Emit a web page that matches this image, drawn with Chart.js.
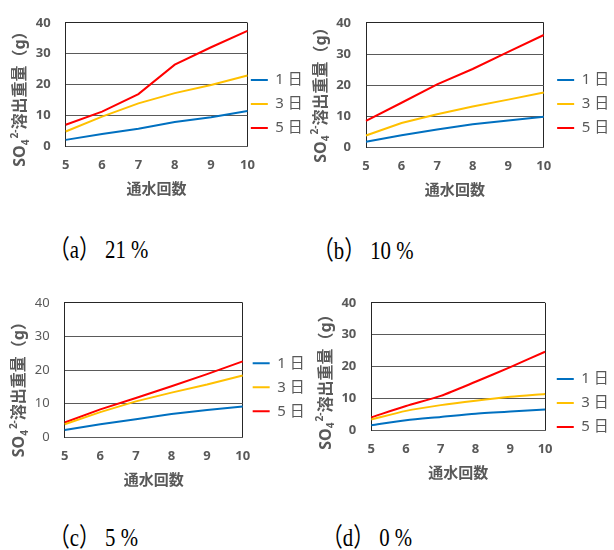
<!DOCTYPE html>
<html>
<head>
<meta charset="utf-8">
<script src="https://cdn.jsdelivr.net/npm/chart.js@4.4.1/dist/chart.umd.min.js"></script>
<style>
  body { margin: 0; width: 614px; height: 550px; background: #fff; overflow: hidden; position: relative; }
  .box { position: absolute; }
  .cap { position: absolute; font-family: 'Liberation Serif', 'Noto Sans CJK JP', serif; font-size: 26px; color: #000;
         transform: scaleX(0.8); transform-origin: left top; white-space: pre; line-height: 1; }
</style>
</head>
<body>
<div class="box" style="left:0px;top:0px;width:318px;height:205px"><canvas id="chartA"></canvas></div>
<div class="box" style="left:305px;top:0px;width:308px;height:205px"><canvas id="chartB"></canvas></div>
<div class="box" style="left:0px;top:280px;width:312px;height:215px"><canvas id="chartC"></canvas></div>
<div class="box" style="left:305px;top:280px;width:308px;height:210px"><canvas id="chartD"></canvas></div>

<div class="cap" style="left:49px;top:237px">（a） 21 %</div>
<div class="cap" style="left:313px;top:238px">（b） 10 %</div>
<div class="cap" style="left:49px;top:525px">（c） 5 %</div>
<div class="cap" style="left:322px;top:525px">（d） 0 %</div>

<script>
// 通水回数
const passes = ['5', '6', '7', '8', '9', '10'];
const days = ['1 日', '3 日', '5 日'];
const colors = ['#0070C0', '#FFC000', '#FF0000'];
const yMin = 0, yMax = 40, yStep = 10;

// (a) 21 %
const day1A = [2.2, 4.1, 5.8, 8.0, 9.5, 11.5];
const day3A = [4.9, 9.7, 14.0, 17.3, 19.9, 23.0];
const day5A = [7.1, 11.3, 17.0, 26.5, 32.1, 37.4];
// (b) 10 %
const day1B = [1.9, 4.0, 5.8, 7.5, 8.7, 9.9];
const day3B = [3.9, 7.9, 10.7, 13.2, 15.4, 17.7];
const day5B = [8.6, 14.4, 20.3, 25.2, 30.7, 36.1];
// (c) 5 %
const day1C = [2.2, 3.9, 5.4, 6.9, 8.1, 9.2];
const day3C = [3.9, 7.5, 10.7, 13.3, 15.7, 18.4];
const day5C = [4.4, 8.3, 11.7, 15.2, 18.8, 22.6];
// (d) 0 %
const day1D = [1.7, 3.3, 4.3, 5.3, 6.0, 6.6];
const day3D = [3.5, 6.2, 8.0, 9.4, 10.6, 11.5];
const day5D = [4.2, 7.7, 10.9, 15.3, 19.9, 24.7];

const gray = '#595959';
const gridGray = '#5a5a5a';
const frameGray = '#262626';
const fam = "'Noto Sans', 'Noto Sans CJK JP', sans-serif";

// y軸タイトル SO4 2- 溶出重量（g）を下付き・上付きで描く + 凡例の位置調整
const soTitle = {
    id: 'soTitle',
    afterLayout(chart, args, opts) {
        chart.legend.left += opts.legendDx;
        chart.legend.right += opts.legendDx;
        chart.legend.top += opts.legendDy;
        chart.legend.bottom += opts.legendDy;
    },
    afterDraw(chart, args, opts) {
        const ctx = chart.ctx;
        const area = chart.chartArea;
        ctx.save();
        ctx.translate(area.left - 45, area.bottom + opts.offset);
        ctx.rotate(-Math.PI / 2);
        ctx.fillStyle = gray;
        ctx.textBaseline = 'middle';
        ctx.textAlign = 'left';
        let x = 0;
        ctx.font = 'bold 16px ' + fam;
        ctx.fillText('SO', x, 0);
        x += ctx.measureText('SO').width;
        ctx.font = 'bold 10px ' + fam;
        ctx.fillText('4', x, 5);
        x += ctx.measureText('4').width + 1;
        ctx.fillText('2-', x, -6);
        x += ctx.measureText('2-').width;
        ctx.font = 'bold 16px ' + fam;
        ctx.fillText('溶出重量（g）', x, 0);
        ctx.restore();
    }
};

function makeChart(id, d1, d3, d5, cfg) {
    const series = [d1, d3, d5];
    const ctx = document.getElementById(id).getContext('2d');
    return new Chart(ctx, {
        type: 'line',
        data: {
            labels: passes,
            datasets: days.map((name, i) => ({
                label: name,
                data: series[i],
                borderColor: colors[i],
                backgroundColor: colors[i],
                borderWidth: 2,
                pointRadius: 0,
                tension: cfg.tension,
                fill: false
            }))
        },
        options: {
            responsive: true,
            maintainAspectRatio: false,
            animation: false,
            layout: { padding: cfg.pad },
            plugins: {
                legend: {
                    position: 'right',
                    labels: {
                        usePointStyle: true,
                        pointStyle: 'line',
                        pointStyleWidth: 17,
                        padding: 9,
                        color: gray,
                        font: { size: 15, family: fam }
                    }
                },
                tooltip: { enabled: false },
                soTitle: { offset: cfg.titleOffset, legendDx: cfg.legendDx, legendDy: cfg.legendDy }
            },
            scales: {
                x: {
                    offset: false,
                    afterFit: s => { s.height = 52; },
                    grid: {
                        drawTicks: false,
                        color: c => (c.index === 0 || c.index === passes.length - 1) ? frameGray : 'rgba(0,0,0,0)'
                    },
                    border: { display: true, color: gridGray },
                    ticks: { color: gray, padding: 11, maxRotation: 0, minRotation: 0, font: { size: 13, weight: 'bold', family: fam } },
                    title: {
                        display: true,
                        text: '通水回数',
                        color: gray,
                        padding: { top: 0, bottom: 0 },
                        font: { size: 15, weight: 'bold', family: fam }
                    }
                },
                y: {
                    min: yMin,
                    max: yMax,
                    afterFit: s => { s.width = 30; },
                    grid: { drawTicks: false, color: c => c.index === 4 ? frameGray : gridGray },
                    border: { display: true, color: frameGray },
                    ticks: { stepSize: yStep, color: gray, padding: 15, font: { size: 13, weight: cfg.yWeight, family: fam } }
                }
            }
        },
        plugins: [soTitle]
    });
}

makeChart('chartA', day1A, day3A, day5A, {
    pad: { top: 9.2, left: 35.7, right: 0, bottom: 6.3 }, tension: 0, titleOffset: 20, legendDx: -5.6, legendDy: 0, yWeight: 'bold'
});
makeChart('chartB', day1B, day3B, day5B, {
    pad: { top: 8.5, left: 31, right: 0, bottom: 5.3 }, tension: 0, titleOffset: 15, legendDx: 4.4, legendDy: 0, yWeight: 'bold'
});
makeChart('chartC', day1C, day3C, day5C, {
    pad: { top: 22.9, left: 34.7, right: 0, bottom: 5.7 }, tension: 0, titleOffset: 20, legendDx: 1, legendDy: -8.8, yWeight: 'normal'
});
makeChart('chartD', day1D, day3D, day5D, {
    pad: { top: 15.5, left: 36.3, right: 0, bottom: 7.3 }, tension: 0.25, titleOffset: 19, legendDx: 2.7, legendDy: 13.9, yWeight: 'bold'
});
</script>
</body>
</html>
